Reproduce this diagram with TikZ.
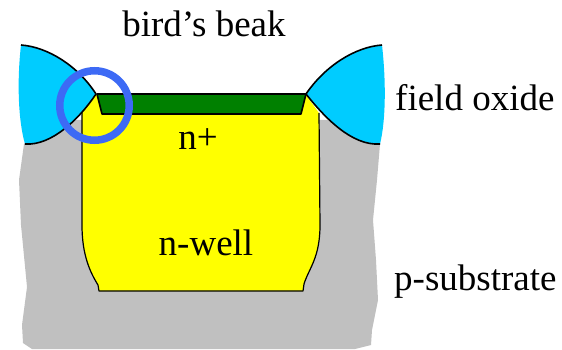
\documentclass[tikz,border=0pt]{standalone}
\usepackage{fontspec}
\setmainfont{Liberation Serif}
\definecolor{subgray}{RGB}{192,192,192}
\definecolor{oxblue}{RGB}{0,204,255}
\definecolor{gategreen}{RGB}{0,128,0}
\definecolor{wellyellow}{RGB}{255,255,0}
\definecolor{ringblue}{RGB}{61,106,245}
\tikzset{lbl/.style={inner sep=0pt,font=\fontsize{37}{40}\selectfont,text=black},
 edge/.style={draw=black,line width=1.6pt,line join=round}}
\begin{document}
\begin{tikzpicture}[x=1pt,y=-1pt]
\useasboundingbox (0,0) rectangle (562,350);
% substrate
\fill[subgray] (24,144) -- (40,120) -- (365,120) -- (380,144) -- (377,180) -- (373,220) -- (376,260) -- (378,300) -- (372,330) -- (371,345) -- (355,349) -- (160,349) -- (32,349) -- (23,343) -- (22,325) -- (27,287) -- (21,225) -- (19,180) -- cycle;
% well
\fill[wellyellow] (96,95) -- (82,113) -- (82,225) .. controls (82,255) and (90,272) .. (98,285) -- (99,291) -- (303,291) -- (304,284) .. controls (309,268) and (320,258) .. (320,225) -- (319,113) -- (306,95) -- cycle;
\draw[edge,line width=1.2pt] (82,113) -- (82,225) .. controls (82,255) and (90,272) .. (98,285) -- (99,291) -- (303,291) -- (304,284) .. controls (309,268) and (320,258) .. (320,225) -- (319,113);
% oxide
\fill[oxblue] (21,45) .. controls (48,47) and (78,66) .. (96,94) .. controls (80,118) and (52,146) .. (25,144) .. controls (18,120) and (17,80) .. cycle;
\fill[oxblue] (382,45) .. controls (355,47) and (325,66) .. (306,94) .. controls (325,118) and (352,146) .. (380,144) .. controls (386,120) and (386,80) .. cycle;
\draw[edge] (21,45) .. controls (48,47) and (78,66) .. (96,94) .. controls (80,118) and (52,146) .. (25,144);
\draw[edge] (382,45) .. controls (355,47) and (325,66) .. (306,94) .. controls (325,118) and (352,146) .. (380,144);
% gate
\filldraw[edge,fill=gategreen] (97,94) -- (306,94) -- (301,114) -- (102,114) -- cycle;
% ring
\node[draw=ringblue,line width=7.5pt,circle,minimum size=69.5pt,inner sep=0pt] (ring) at (94.5,105.5) {};
% labels
\node[lbl] (beak) at (204,24) {bird’s beak};
\node[lbl,anchor=west] (ox) at (395,98) {field oxide};
\node[lbl,anchor=west] (sub) at (394,282) {p-substrate};
\node[lbl] (np) at (198,139) {n+};
\node[lbl] (nw) at (206,243) {n-well};
\end{tikzpicture}
\end{document}
